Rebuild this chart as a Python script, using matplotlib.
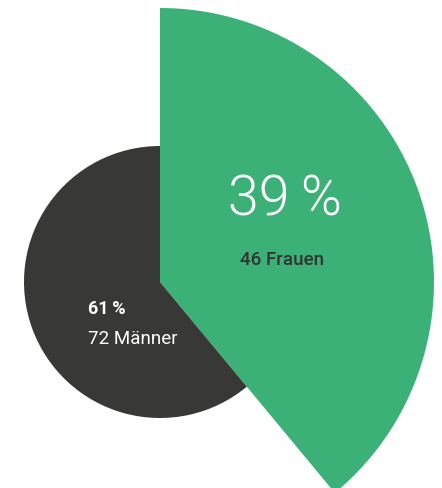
import matplotlib
matplotlib.use("Agg")
import matplotlib.pyplot as plt
from matplotlib.patches import Wedge

# data
labels = ["Frauen", "Männer"]
counts = [46, 72]
percents = [39, 61]
colors = ["#3bb177", "#383837"]

W, H = 442, 488
fig = plt.figure(figsize=(W / 100, H / 100), dpi=100)
ax = fig.add_axes([0, 0, 1, 1])
ax.set_xlim(0, W)
ax.set_ylim(0, H)
ax.set_aspect("equal")
ax.axis("off")

cx, cy = 160, H - 282
radii = [274, 136]

total = sum(counts)
start = 90.0
# go clockwise from 12 o'clock
for n, r, c in zip(counts, radii, colors):
    sweep = 360.0 * n / total
    ax.add_patch(Wedge((cx, cy), r, start - sweep, start, facecolor=c,
                       edgecolor="none", antialiased=True))
    start -= sweep

ax.text(285, H - 200, f"{percents[0]}\u2009%", color="white", fontsize=40,
        family=["Roboto", "DejaVu Sans"], fontweight=300,
        ha="center", va="center")
ax.text(282, H - 260, f"{counts[0]} {labels[0]}", color="#333333",
        fontsize=13.5, family="Roboto", fontweight="medium",
        ha="center", va="center")

ax.text(88, H - 309, f"{percents[1]}\u2009%", color="white", fontsize=13,
        family=["Roboto", "DejaVu Sans"], fontweight="bold",
        ha="left", va="center")
ax.text(88, H - 339, f"{counts[1]} {labels[1]}", color="white",
        fontsize=13.5, family="Roboto", ha="left", va="center")

fig.savefig("out.png", dpi=100)
